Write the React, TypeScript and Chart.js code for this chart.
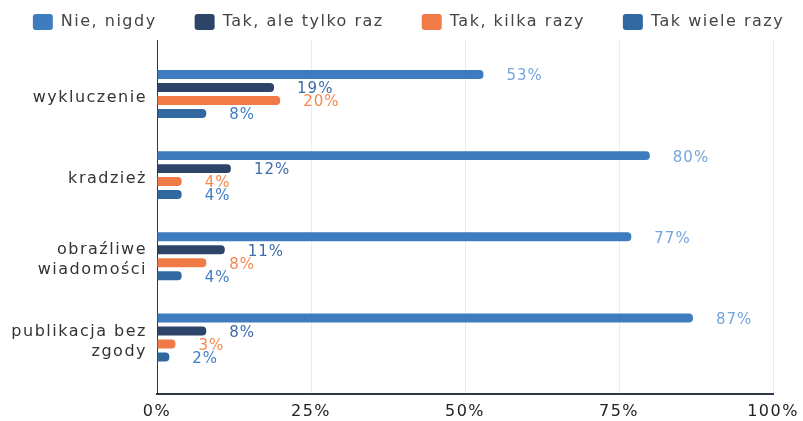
import React, { useEffect, useRef } from "react";
import { Chart, registerables } from "chart.js";

Chart.register(...registerables);

const categories: (string | string[])[] = [
  "wykluczenie",
  "kradzież",
  ["obraźliwe", "wiadomości"],
  ["publikacja bez", "zgody"],
];
const seriesNames = ["Nie, nigdy", "Tak, ale tylko raz", "Tak, kilka razy", "Tak wiele razy"];
const nieNigdy = [53, 80, 77, 87];
const takRaz = [19, 12, 11, 8];
const takKilka = [20, 4, 8, 3];
const takWiele = [8, 4, 4, 2];
const xTicks = [0, 25, 50, 75, 100];

const barColors = ["#3f7cbf", "#2c4468", "#f07b47", "#30689f"];
const labelColors = ["#74a5dc", "#3d6aaa", "#f5884f", "#3f7cc8"];

const FONT = '"DejaVu Sans", sans-serif';
const SPACING = "1.5px";
const PAD_LEFT = -40;
const PAD_RIGHT = -54;

const letterSpacingPlugin = {
  id: "letterSpacing",
  beforeUpdate(chart: any) { chart.ctx.letterSpacing = SPACING; },
  beforeLayout(chart: any) { chart.ctx.letterSpacing = SPACING; },
  beforeDraw(chart: any) { chart.ctx.letterSpacing = SPACING; },
};

const valueLabelsPlugin = {
  id: "valueLabels",
  afterDatasetsDraw(chart: any) {
    const ctx = chart.ctx;
    ctx.save();
    ctx.letterSpacing = "1px";
    ctx.font = `15px ${FONT}`;
    ctx.textAlign = "left";
    ctx.textBaseline = "middle";
    chart.data.datasets.forEach((ds: any, di: number) => {
      const meta = chart.getDatasetMeta(di);
      meta.data.forEach((el: any, i: number) => {
        ctx.fillStyle = labelColors[di];
        ctx.fillText(`${ds.data[i].x}%`, el.x + 23, el.y + 2);
      });
    });
    ctx.restore();
  },
};

const noPadding = () => ({ left: 0, top: 0, right: 0, bottom: 0 });

export default function App() {
  const ref = useRef<HTMLCanvasElement>(null);
  useEffect(() => {
    if (!ref.current) return;
    const series = [nieNigdy, takRaz, takKilka, takWiele];
    const chart = new Chart(ref.current, {
      type: "bar",
      data: {
        datasets: series.map((vals, si) => ({
          label: seriesNames[si],
          data: vals.map((v, i) => ({ x: v, y: i })),
          backgroundColor: barColors[si],
          borderRadius: 4,
          categoryPercentage: 0.64,
          barPercentage: 0.69,
        })),
      },
      options: {
        indexAxis: "y",
        animation: false,
        responsive: false,
        layout: { padding: { top: -24, left: PAD_LEFT, right: PAD_RIGHT, bottom: 0 } },
        plugins: {
          tooltip: { enabled: false },
          legend: {
            position: "top",
            labels: {
              boxWidth: 20,
              boxHeight: 16,
              padding: 38,
              color: "#444",
              font: { family: FONT, size: 16 },
              useBorderRadius: true,
              borderRadius: 3,
            },
          },
        },
        scales: {
          x: {
            type: "linear",
            min: 0,
            max: 100,
            afterBuildTicks: (axis: any) => {
              axis.ticks = xTicks.map((v) => ({ value: v }));
            },
            afterFit: (axis: any) => {
              axis.paddingRight = 30;
              axis.paddingLeft = 0;
              axis.paddingTop = 0;
              axis.paddingBottom = 0;
              axis.height = 27;
            },
            ticks: {
              padding: 8,
              maxRotation: 0,
              color: "#222",
              font: { family: FONT, size: 16 },
              callback: (v: any) => `${v}%`,
            },
            grid: { color: "#ececec", drawTicks: false, lineWidth: 1 },
            border: { color: "#2b3a4a", width: 2 },
          },
          y: {
            type: "linear",
            reverse: true,
            offset: false,
            min: -0.664,
            max: 3.696,
            afterBuildTicks: (axis: any) => {
              axis.ticks = categories.map((_, i) => ({ value: i }));
            },
            afterFit: (axis: any) => {
              axis.width = 157 - PAD_LEFT;
              axis.paddingTop = 0;
              axis.paddingBottom = 0;
              axis.getPadding = noPadding;
            },
            ticks: {
              padding: 10,
              labelOffset: 4,
              color: "#333",
              font: { family: FONT, size: 16, lineHeight: 1.25 },
              callback: (v: any) => categories[v as number] ?? "",
            },
            grid: { display: false, drawTicks: false, offset: false },
            border: { color: "#333", width: 1 },
          },
        },
      },
      plugins: [letterSpacingPlugin, valueLabelsPlugin],
    } as any);
    return () => chart.destroy();
  }, []);
  return (
    <div style={{ position: "fixed", left: 0, top: 0, width: 803, height: 421, background: "#fff" }}>
      <canvas ref={ref} width={803} height={421} style={{ display: "block" }} />
    </div>
  );
}
